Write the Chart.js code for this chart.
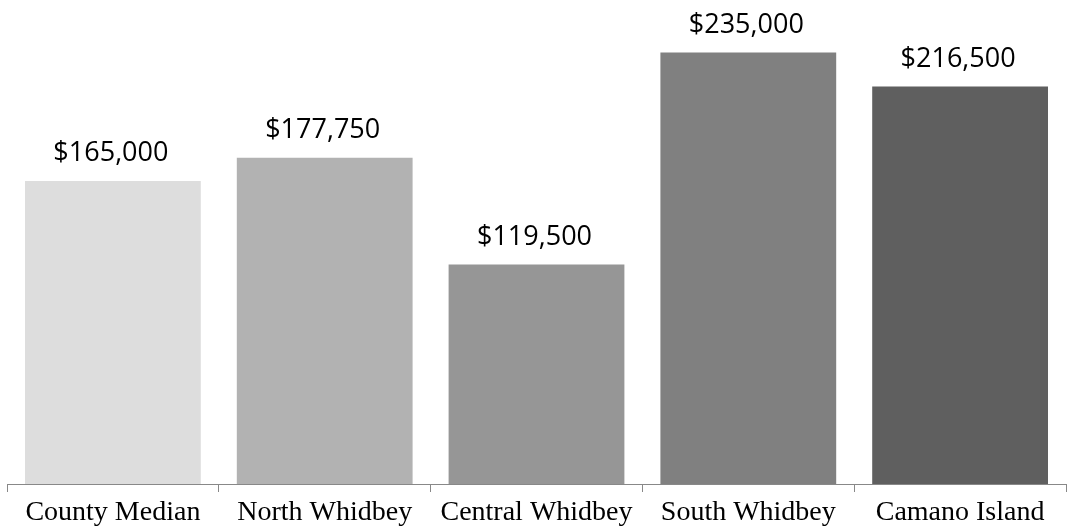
<!DOCTYPE html>
<html>
<head>
<meta charset="utf-8">
<script src="https://cdn.jsdelivr.net/npm/chart.js@4/dist/chart.umd.min.js"></script>
<style>
html,body{margin:0;padding:0;background:#fff;}
#wrap{width:1067px;height:528px;position:relative;}
</style>
</head>
<body>
<div id="wrap"><canvas id="c" width="1067" height="528"></canvas></div>
<script>
const categories = ["County Median", "North Whidbey", "Central Whidbey", "South Whidbey", "Camano Island"];
const values = [165000, 177750, 119500, 235000, 216500];
const barColors = ["#DDDDDD", "#B2B2B2", "#969696", "#808080", "#5F5F5F"];

const fmt = v => "$" + v.toLocaleString("en-US");

const valueLabels = {
  id: "valueLabels",
  afterDatasetsDraw(chart) {
    const ctx = chart.ctx;
    const meta = chart.getDatasetMeta(0);
    ctx.save();
    ctx.font = "27px 'Open Sans'";
    ctx.fillStyle = "#000";
    ctx.textAlign = "center";
    ctx.textBaseline = "alphabetic";
    meta.data.forEach((bar, i) => {
      ctx.fillText(fmt(values[i]), bar.x - 2, bar.y - 20);
    });
    ctx.restore();
  }
};

new Chart(document.getElementById("c"), {
  type: "bar",
  data: {
    labels: categories,
    datasets: [{
      data: values,
      backgroundColor: barColors,
      borderWidth: 0,
      categoryPercentage: 1,
      barPercentage: 0.83
    }]
  },
  options: {
    responsive: false,
    animation: false,
    layout: { padding: { left: 7, right: 1, top: 25, bottom: 0 } },
    plugins: { legend: { display: false }, tooltip: { enabled: false } },
    scales: {
      y: { display: false, min: 0, max: 250000 },
      x: {
        offset: true,
        afterFit: (scale) => { scale.height = 44; },
        grid: { display: true, offset: true, drawOnChartArea: false, drawTicks: true, tickLength: 8, color: "#888888", lineWidth: 1 },
        border: { display: true, color: "#888888", width: 1 },
        ticks: { color: "#000", font: { family: "'Liberation Serif'", size: 28, lineHeight: 0.84 }, padding: 9, maxRotation: 0, autoSkip: false }
      }
    }
  },
  plugins: [valueLabels]
});
</script>
</body>
</html>
